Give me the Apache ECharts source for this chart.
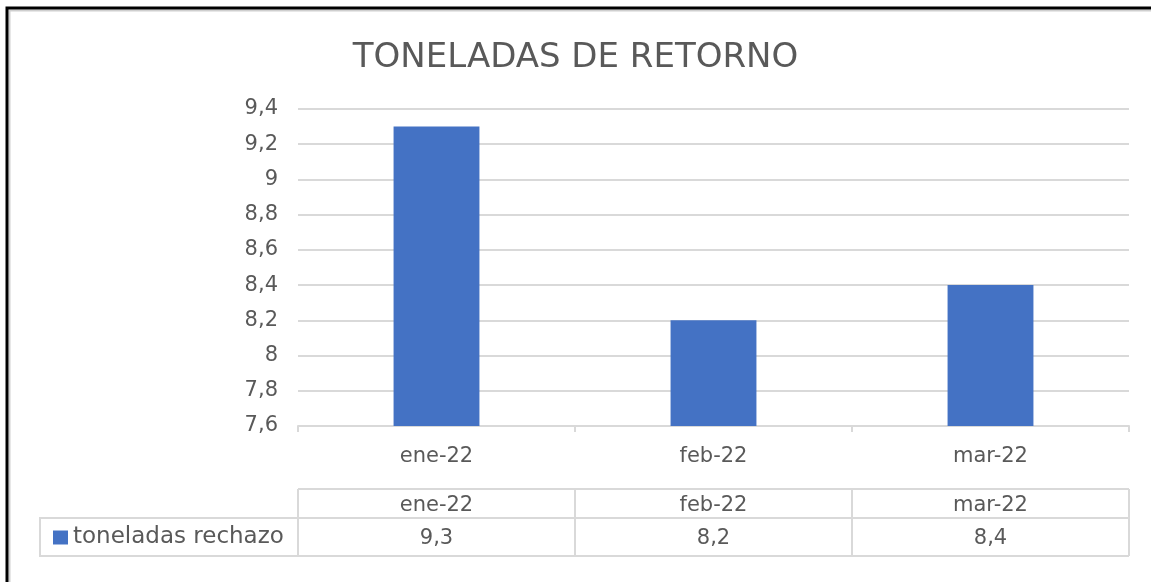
<!DOCTYPE html>
<html lang="es">
<head>
    <meta charset="UTF-8">
    <title>Toneladas de retorno</title>
    <script src="https://cdn.jsdelivr.net/npm/echarts@6/dist/echarts.min.js"></script>
    <style>
        html, body { margin: 0; padding: 0; background: #fff; overflow: hidden; }
        #chart { width: 1151px; height: 582px; }
    </style>
</head>
<body>
    <div id="chart"></div>
    <script>
        // datos
        var meses = ['ene-22', 'feb-22', 'mar-22'];
        var rechazo = [9.3, 8.2, 8.4];
        var serieNombre = 'toneladas rechazo';
        var yMin = 7.6, yMax = 9.4, yPaso = 0.2;

        var gris = '#595959';
        var linea = '#d9d9d9';
        var fuente = '"DejaVu Sans", sans-serif';
        var tam = 21;

        function coma(v) {
            return String(+v.toFixed(1)).replace('.', ',');
        }

        var chart = echarts.init(document.getElementById('chart'));

        // tabla de datos: cada fila es un grid con lineas de division
        function ejeTablaX(i) {
            return {
                gridIndex: i, type: 'category', data: meses,
                axisLine: { show: false }, axisTick: { show: false }, axisLabel: { show: false },
                splitLine: { show: true, lineStyle: { color: linea, width: 2 } }
            };
        }
        function ejeTablaY(i) {
            return {
                gridIndex: i, type: 'value', min: 0, max: 1, interval: 1,
                axisLine: { show: false }, axisTick: { show: false }, axisLabel: { show: false },
                splitLine: { show: true, lineStyle: { color: linea, width: 2 } }
            };
        }
        function filaTabla(i, texto) {
            return {
                name: 'fila' + i,
                type: 'bar',
                xAxisIndex: i,
                yAxisIndex: i,
                barWidth: '100%',
                silent: true,
                data: meses.map(function () { return 1; }),
                itemStyle: { color: 'rgba(0,0,0,0)' },
                label: {
                    show: true, position: 'inside', offset: [0, 2], color: gris, fontSize: tam, fontFamily: fuente,
                    formatter: function (p) { return texto(p.dataIndex); }
                }
            };
        }

        var option = {
            animation: false,
            title: {
                text: 'TONELADAS DE RETORNO',
                left: 'center',
                top: 36,
                textStyle: { color: gris, fontSize: 34, fontWeight: 'normal', fontFamily: fuente }
            },
            legend: {
                data: [serieNombre],
                left: 48,
                top: 521,
                icon: 'rect',
                itemWidth: 15,
                itemHeight: 14,
                itemGap: 12,
                selectedMode: false,
                textStyle: { color: gris, fontSize: 23, fontFamily: fuente }
            },
            grid: [
                { left: 298, right: 22, top: 109, height: 317 },
                { left: 298, right: 22, top: 489, height: 29 },
                { left: 298, right: 22, top: 518, height: 38 }
            ],
            xAxis: [
                {
                    gridIndex: 0,
                    type: 'category',
                    data: meses,
                    axisLine: { lineStyle: { color: linea, width: 2 } },
                    axisTick: { show: true, length: 6, lineStyle: { color: linea, width: 2 } },
                    axisLabel: { color: gris, fontSize: tam, fontFamily: fuente, margin: 20 }
                },
                ejeTablaX(1),
                ejeTablaX(2)
            ],
            yAxis: [
                {
                    gridIndex: 0,
                    type: 'value',
                    min: yMin,
                    max: yMax,
                    interval: yPaso,
                    axisLine: { show: false },
                    axisTick: { show: false },
                    splitLine: { lineStyle: { color: linea, width: 2 } },
                    axisLabel: { color: gris, fontSize: tam, fontFamily: fuente, margin: 20, formatter: coma }
                },
                ejeTablaY(1),
                ejeTablaY(2)
            ],
            series: [
                {
                    name: serieNombre,
                    type: 'bar',
                    xAxisIndex: 0,
                    yAxisIndex: 0,
                    data: rechazo,
                    barWidth: '31%',
                    itemStyle: { color: '#4472C4' }
                },
                filaTabla(1, function (i) { return meses[i]; }),
                filaTabla(2, function (i) { return coma(rechazo[i]); })
            ],
            graphic: [
                // celda de la leyenda
                {
                    type: 'rect',
                    shape: { x: 40, y: 518, width: 258, height: 38 },
                    style: { fill: 'none', stroke: linea, lineWidth: 2 },
                    z: 10
                },
                // marco exterior: borde superior e izquierdo con una sombra gris
                {
                    type: 'polyline',
                    shape: { points: [[1151, 10.5], [9.5, 10.5], [9.5, 582]] },
                    style: { fill: 'none', stroke: '#cfcfcf', lineWidth: 2 },
                    z: 10
                },
                {
                    type: 'polyline',
                    shape: { points: [[1151, 8], [7, 8], [7, 582]] },
                    style: { fill: 'none', stroke: '#000', lineWidth: 3 },
                    z: 11
                }
            ]
        };

        chart.setOption(option);
    </script>
</body>
</html>
